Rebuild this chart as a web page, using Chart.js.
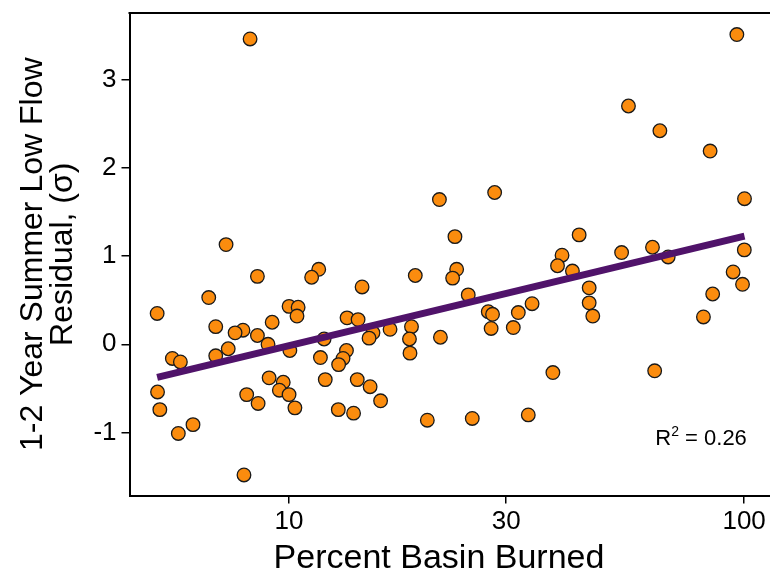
<!DOCTYPE html>
<html lang="en">
<head>
    <meta charset="UTF-8">
    <title>Summer Low Flow Residual vs Percent Basin Burned</title>
    <style>
        html, body {
            margin: 0;
            padding: 0;
            background: #ffffff;
        }
        #wrap {
            width: 770px;
            height: 573px;
            position: relative;
        }
    </style>
</head>
<body>
    <div id="wrap"><canvas id="lowFlowChart"></canvas></div>

    <script src="https://cdn.jsdelivr.net/npm/chart.js"></script>
    <script>
        // Percent of basin burned (x) and 1-2 yr summer low flow residual (y)
        const burnedPct = [
            8.21, 96.4, 55.7, 65.3, 84.2, 21.4, 28.3, 100.2, 7.27, 23.15,
            43.4, 39.8, 53.8, 62.9, 100.1, 68.1, 8.52, 11.62, 11.21, 6.66,
            5.13, 10.0, 10.47, 10.41, 9.18, 13.41, 14.18, 6.90, 7.92, 7.61,
            8.52, 8.99, 7.35, 6.90, 5.54, 5.77, 11.94, 10.04, 11.72, 14.47,
            18.94, 23.35, 22.88, 24.76, 15.29, 14.99, 16.67, 18.58, 18.39, 18.44,
            21.51, 13.37, 13.14, 12.85, 5.14, 5.20, 5.71, 6.15, 7.96, 8.07,
            8.55, 9.04, 9.71, 9.52, 10.0, 10.30, 12.01, 12.83, 13.86, 14.12,
            15.07, 15.89, 20.13, 25.27, 33.55, 38.0, 63.6, 27.4, 28.0, 27.8,
            31.9, 34.2, 31.1, 38.9, 41.95, 45.66, 45.66, 46.5, 94.6, 99.2,
            85.3, 81.4
        ];
        const residual = [
            3.46, 3.51, 2.70, 2.42, 2.19, 1.64, 1.72, 1.65, 1.13, 1.22,
            1.24, 1.01, 1.04, 1.10, 1.07, 0.99, 0.77, 0.85, 0.76, 0.53,
            0.35, 0.43, 0.42, 0.32, 0.25, 0.30, 0.28, 0.20, 0.16, 0.13,
            0.10, 0.00, -0.05, -0.13, -0.16, -0.20, 0.06, -0.07, -0.15, 0.65,
            0.78, 0.85, 0.75, 0.56, 0.13, 0.07, 0.17, 0.20, 0.06, -0.10,
            0.08, -0.07, -0.16, -0.23, -0.54, -0.74, -1.01, -0.91, -1.48, -0.57,
            -0.67, -0.38, -0.43, -0.52, -0.57, -0.72, -0.40, -0.74, -0.78, -0.40,
            -0.48, -0.64, -0.86, -0.84, -0.80, -0.32, -0.30, 0.37, 0.34, 0.18,
            0.36, 0.46, 0.19, 0.89, 0.83, 0.64, 0.47, 0.32, 0.82, 0.68,
            0.57, 0.31
        ];

        // fitted line: residual = a + b * log10(percent burned)
        const fitIntercept = -1.254;
        const fitSlope = 1.239;
        const rSquared = '0.26';

        const xTicks = [10, 30, 100];
        const yTicks = [-1, 0, 1, 2, 3];
        const xTitle = 'Percent Basin Burned';

        const points = burnedPct.map((x, i) => ({ x: x, y: residual[i] }));
        const xLo = Math.min(...burnedPct);
        const xHi = Math.max(...burnedPct);
        const fitLine = [xLo, xHi].map(x => ({ x: x, y: fitIntercept + fitSlope * Math.log10(x) }));

        const FONT = "'Liberation Sans', Arial, Helvetica, sans-serif";

        // top frame line, x axis title and R^2 note
        const extras = {
            id: 'extras',
            afterDraw(chart) {
                const { ctx, chartArea, scales } = chart;
                ctx.save();
                ctx.strokeStyle = '#000';
                ctx.lineWidth = 2;
                ctx.beginPath();
                ctx.moveTo(chartArea.left - 1, chartArea.top);
                ctx.lineTo(chart.width, chartArea.top);
                ctx.stroke();

                ctx.fillStyle = '#000';
                ctx.textAlign = 'center';
                ctx.textBaseline = 'alphabetic';
                ctx.font = '34px ' + FONT;
                ctx.fillText(xTitle, 439, chart.height - 5);

                const right = scales.x.getPixelForValue(101.4);
                const base = scales.y.getPixelForValue(-1.14);
                ctx.textAlign = 'left';
                ctx.font = '22px ' + FONT;
                const tail = ' = ' + rSquared;
                const wTail = ctx.measureText(tail).width;
                const wR = ctx.measureText('R').width;
                ctx.font = '14px ' + FONT;
                const wSup = ctx.measureText('2').width;
                let x = right - wTail - wSup - wR;
                ctx.font = '22px ' + FONT;
                ctx.fillText('R', x, base);
                ctx.font = '14px ' + FONT;
                ctx.fillText('2', x + wR, base - 9);
                ctx.font = '22px ' + FONT;
                ctx.fillText(tail, x + wR + wSup, base);
                ctx.restore();
            }
        };

        const ctx = document.getElementById('lowFlowChart').getContext('2d');
        const lowFlowChart = new Chart(ctx, {
            type: 'scatter',
            data: {
                datasets: [
                    {
                        type: 'line',
                        label: 'Fit',
                        data: fitLine,
                        borderColor: '#50136a',
                        borderWidth: 7,
                        borderCapStyle: 'butt',
                        pointRadius: 0,
                        fill: false,
                        order: 0
                    },
                    {
                        label: 'Basins',
                        data: points,
                        backgroundColor: '#fb8c0e',
                        borderColor: '#1a1a1a',
                        borderWidth: 1.3,
                        pointRadius: 6.8,
                        order: 1
                    }
                ]
            },
            options: {
                responsive: true,
                maintainAspectRatio: false,
                animation: false,
                devicePixelRatio: 1,
                layout: { autoPadding: false, padding: { top: 13, right: 0, bottom: 0, left: 0 } },
                plugins: {
                    legend: { display: false },
                    tooltip: { enabled: false }
                },
                scales: {
                    x: {
                        type: 'logarithmic',
                        min: 4.46,
                        max: 114,
                        afterBuildTicks: s => { s.ticks = xTicks.map(v => ({ value: v })); },
                        afterFit: s => {
                            s.height = 77.5;
                            s.paddingLeft = 0;
                            s.paddingRight = 0;
                        },
                        ticks: {
                            callback: v => String(v),
                            color: '#000',
                            font: { family: FONT, size: 26 },
                            padding: 3,
                            maxRotation: 0,
                            autoSkip: false
                        },
                        grid: { drawOnChartArea: false, color: '#000', lineWidth: 1.5, tickLength: 8 },
                        border: { color: '#000', width: 2 }
                    },
                    y: {
                        min: -1.713,
                        max: 3.754,
                        afterBuildTicks: s => { s.ticks = yTicks.map(v => ({ value: v })); },
                        afterFit: s => {
                            s.width = 129.5;
                            s.paddingTop = 0;
                            s.paddingBottom = 0;
                        },
                        ticks: {
                            color: '#000',
                            font: { family: FONT, size: 26 },
                            padding: 5
                        },
                        grid: { drawOnChartArea: false, color: '#000', lineWidth: 1.5, tickLength: 8 },
                        border: { color: '#000', width: 2 },
                        title: {
                            display: true,
                            text: ['1-2 Year Summer Low Flow', 'Residual, (\u03c3)'],
                            color: '#000',
                            font: { family: FONT, size: 32, lineHeight: 0.94 },
                            padding: { top: 18, bottom: 0 }
                        }
                    }
                }
            },
            plugins: [extras]
        });
    </script>
</body>
</html>
